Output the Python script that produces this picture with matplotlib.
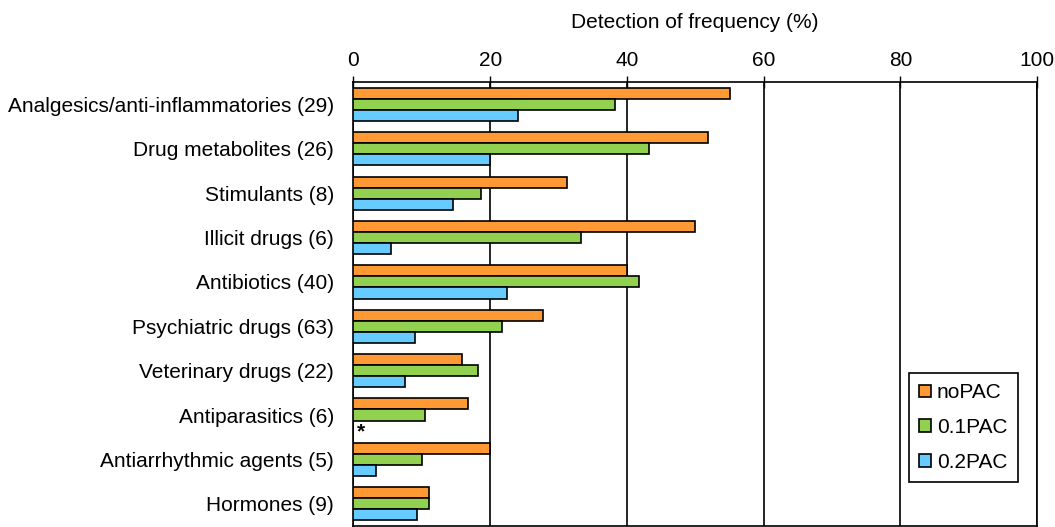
import numpy as np
import matplotlib
matplotlib.use("Agg")
import matplotlib.pyplot as plt

plt.rcParams['font.family'] = ['Liberation Sans', 'DejaVu Sans']

categories = ["Analgesics/anti-inflammatories (29)", "Drug metabolites (26)", "Stimulants (8)",
              "Illicit drugs (6)", "Antibiotics (40)", "Psychiatric drugs (63)",
              "Veterinary drugs (22)", "Antiparasitics (6)", "Antiarrhythmic agents (5)",
              "Hormones (9)"]
no_pac = [55.1, 51.9, 31.3, 50.0, 40.0, 27.7, 15.9, 16.7, 20.0, 11.1]
pac_01 = [38.3, 43.3, 18.7, 33.3, 41.7, 21.8, 18.2, 10.4, 10.0, 11.1]
pac_02 = [24.1, 20.0, 14.6, 5.5, 22.5, 9.0, 7.6, 0.0, 3.3, 9.25]
series_names = ["noPAC", "0.1PAC", "0.2PAC"]
colors = ["#FF9933", "#92D050", "#66CCFF"]

fig = plt.figure(figsize=(10.55, 5.27), dpi=100)
ax = fig.add_axes([0.335, 0.002, 0.648, 0.842])

y = np.arange(len(categories))
h = 0.25
for k, (vals, name, c) in enumerate(zip([no_pac, pac_01, pac_02], series_names, colors)):
    ax.barh(y + (k - 1) * h, vals, height=h, color=c, edgecolor='black', linewidth=1.2,
            label=name, zorder=3)

# not detected marker
ax.text(1.1, 7 + h + 0.12, '*', ha='center', va='center', fontsize=15, fontweight='bold')

ax.set_xlim(0, 100)
ax.set_ylim(len(categories) - 0.5, -0.5)
ax.set_xticks(np.arange(0, 101, 20))
ax.xaxis.tick_top()
ax.xaxis.set_label_position('top')
ax.set_xlabel("Detection of frequency (%)", fontsize=15, labelpad=16)
ax.tick_params(axis='x', direction='inout', length=8, width=1, labelsize=15, pad=5)
ax.set_yticks(y)
ax.set_yticklabels(categories, fontsize=15)
ax.tick_params(axis='y', length=0, pad=14)
ax.grid(axis='x', color='black', linewidth=1.2, zorder=0)
for s in ax.spines.values():
    s.set_color('black')
    s.set_linewidth(1.2)

leg = ax.legend(loc='lower right', bbox_to_anchor=(0.972, 0.099), fontsize=15, frameon=True,
                fancybox=False, edgecolor='black', framealpha=1, handlelength=0.55,
                handleheight=0.55, handletextpad=0.3, labelspacing=0.75, borderpad=0.5,
                borderaxespad=0)
leg.get_frame().set_linewidth(1.2)

fig.savefig("out.png", dpi=100)
